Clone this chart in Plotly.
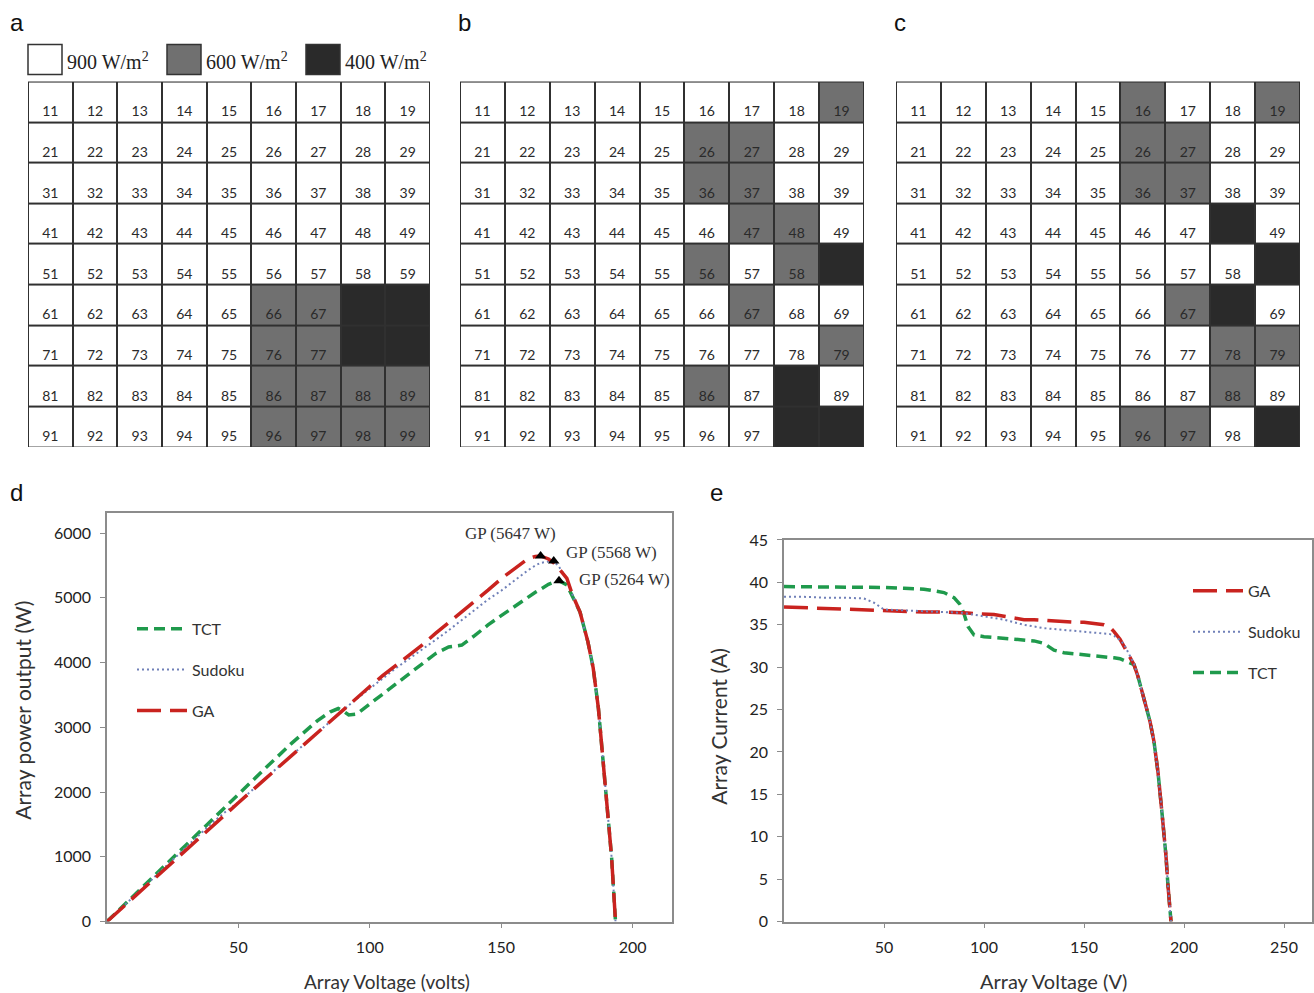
import plotly.graph_objects as go

W, H = 1314, 993

# ---------------- grid data ----------------
rows = list(range(1, 10))
cols = list(range(1, 10))
grid_a_600 = [66, 67, 76, 77, 86, 87, 88, 89, 96, 97, 98, 99]
grid_a_400 = [68, 69, 78, 79]
grid_b_600 = [19, 26, 27, 36, 37, 47, 48, 56, 58, 67, 79, 86]
grid_b_400 = [59, 88, 98, 99]
grid_c_600 = [16, 19, 26, 27, 36, 37, 67, 78, 79, 88, 96, 97]
grid_c_400 = [48, 59, 68, 99]
irradiance_labels = ["900 W/m<sup>2</sup>", "600 W/m<sup>2</sup>", "400 W/m<sup>2</sup>"]
shade_colors = ["#ffffff", "#707070", "#2a2a2a"]

# ---------------- curve data ----------------
voltage = [0, 10, 20, 30, 40, 45, 50, 60, 70, 80,
           85, 88, 90, 92, 95, 100, 105, 110, 115, 120,
           125, 130, 135, 140, 145, 150, 155, 160, 163, 165,
           168, 170, 172, 175, 177, 180, 183, 185, 187, 189,
           190, 191, 192, 193.5]

power_ga = [0, 370, 738, 1104, 1472, 1652, 1835, 2196, 2555, 2920,
            3102, 3203, 3276, 3349, 3449, 3630, 3801, 3960, 4117, 4272,
            4450, 4615, 4793, 4956, 5119, 5295, 5456, 5600, 5640, 5647,
            5600, 5540, 5450, 5300, 5060, 4780, 4320, 3920, 3290, 2420,
            1990, 1500, 1000, 0]
power_sudoku = [0, 383, 764, 1146, 1524, 1692, 1840, 2202, 2562, 2920,
                3102, 3203, 3276, 3340, 3439, 3600, 3759, 3916, 4060, 4200,
                4350, 4498, 4658, 4816, 4974, 5110, 5270, 5420, 5500, 5540,
                5560, 5568, 5480, 5300, 5060, 4780, 4320, 3920, 3290, 2420,
                1990, 1500, 1000, 0]
power_tct = [0, 395, 790, 1182, 1576, 1773, 1970, 2358, 2744, 3100,
             3240, 3290, 3250, 3190, 3205, 3360, 3518, 3674, 3841, 3996,
             4138, 4240, 4270, 4420, 4582, 4725, 4867, 5008, 5086, 5132,
             5208, 5240, 5264, 5200, 5040, 4780, 4320, 3920, 3290, 2420,
             1990, 1500, 1000, 0]

current_ga = [37.1, 37.0, 36.9, 36.8, 36.8, 36.7, 36.7, 36.6, 36.5, 36.5,
              36.5, 36.4, 36.4, 36.4, 36.3, 36.3, 36.2, 36.0, 35.8, 35.6,
              35.6, 35.5, 35.5, 35.4, 35.3, 35.3, 35.2, 35.0, 34.7, 34.2,
              33.3, 32.5, 31.6, 30.3, 28.9, 26.4, 23.6, 21.2, 17.6, 12.8,
              10.3, 7.7, 4.2, 0.0]
current_sudoku = [38.3, 38.3, 38.2, 38.2, 38.1, 37.6, 36.8, 36.7, 36.6, 36.5,
                  36.5, 36.4, 36.4, 36.3, 36.2, 36.0, 35.8, 35.6, 35.3, 35.0,
                  34.8, 34.6, 34.5, 34.4, 34.3, 34.2, 34.1, 34.0, 33.9, 33.7,
                  33.2, 32.7, 31.8, 30.4, 28.9, 26.4, 23.6, 21.2, 17.6, 12.8,
                  10.3, 7.7, 4.2, 0.0]
current_tct = [39.5, 39.5, 39.5, 39.4, 39.4, 39.4, 39.4, 39.3, 39.2, 38.8,
               38.2, 37.4, 36.3, 34.8, 33.8, 33.6, 33.5, 33.4, 33.4, 33.3,
               33.1, 32.8, 32.0, 31.7, 31.6, 31.5, 31.4, 31.3, 31.2, 31.1,
               31.0, 30.8, 30.7, 30.3, 28.9, 26.4, 23.6, 21.2, 17.6, 12.8,
               10.3, 7.7, 4.2, 0.0]

gp_voltage = [165, 170, 172]
gp_power = [5647, 5568, 5264]
gp_labels = ["GP (5647 W)", "GP (5568 W)", "GP (5264 W)"]

d_xticks = [50, 100, 150, 200]
d_yticks = [0, 1000, 2000, 3000, 4000, 5000, 6000]
e_xticks = [50, 100, 150, 200, 250]
e_yticks = [0, 5, 10, 15, 20, 25, 30, 35, 40, 45]

RED = "#c9231f"
GREEN = "#1f9a4c"
BLUE = "#7080b8"
SANS = "Lato"
SERIF = "Liberation Serif"


def px(x):
    return x / W


def py(y):
    # pixel row in the picture -> paper coordinate (with an empirical viewport correction)
    return 1 - ((y - 9.4) / 0.982) / H


fig = go.Figure()

# ---------------- grids ----------------
grids = [("a", grid_a_600, grid_a_400, (28, 430)),
         ("b", grid_b_600, grid_b_400, (460, 864)),
         ("c", grid_c_600, grid_c_400, (896, 1300))]
shapes = []
annotations = []
layout_axes = {}
for gi, (name, g600, g400, (x0, x1)) in enumerate(grids):
    ax = gi + 3
    z = []
    tx, ty, tt = [], [], []
    for r in rows:
        zr = []
        for c in cols:
            cell = r * 10 + c
            zr.append(1 if cell in g600 else (2 if cell in g400 else 0))
            tx.append(c - 1)
            ty.append(r - 1 + 0.1)
            tt.append(str(cell))
        z.append(zr)
    fig.add_trace(go.Heatmap(
        z=z, x=list(range(9)), y=list(range(9)),
        colorscale=[[0, shade_colors[0]], [0.5, shade_colors[1]], [1, shade_colors[2]]],
        zmin=0, zmax=2, showscale=False, xgap=2, ygap=2, hoverinfo="skip",
        xaxis=f"x{ax}", yaxis=f"y{ax}"))
    fig.add_trace(go.Scatter(
        x=tx, y=ty, text=tt, mode="text", textposition="bottom center",
        textfont=dict(family=SANS, size=14, color="#2a2a2a"),
        hoverinfo="skip", showlegend=False,
        xaxis=f"x{ax}", yaxis=f"y{ax}"))
    layout_axes[f"xaxis{ax}"] = dict(domain=[px(x0), px(x1)], range=[-0.5, 8.5],
                                     visible=False, fixedrange=True, anchor=f"y{ax}")
    layout_axes[f"yaxis{ax}"] = dict(domain=[py(447), py(81)], range=[8.5, -0.5],
                                     visible=False, fixedrange=True, anchor=f"x{ax}")
    shapes.append(dict(type="rect", xref=f"x{ax}", yref=f"y{ax}", x0=-0.53, x1=8.53,
                       y0=-0.53, y1=8.53, fillcolor="#303030", line=dict(width=0),
                       layer="below"))

# irradiance key (legend of the grids)
key_boxes = [(28, 62), (167, 201), (306, 340)]
for (bx0, bx1), col, lab in zip(key_boxes, shade_colors, irradiance_labels):
    shapes.append(dict(type="rect", xref="paper", yref="paper", x0=px(bx0), x1=px(bx1),
                       y0=py(74), y1=py(44), fillcolor=col, line=dict(color="#333333", width=1.5)))
    annotations.append(dict(x=px(bx1 + 3), y=py(60), xref="paper", yref="paper", text=lab,
                            showarrow=False, xanchor="left", yanchor="middle",
                            font=dict(family=SERIF, size=20, color="#222")))

# panel letters
for letter, lx, ly in [("a", 8, 22), ("b", 456, 22), ("c", 892, 22), ("d", 8, 492), ("e", 708, 492)]:
    annotations.append(dict(x=px(lx), y=py(ly), xref="paper", yref="paper", text=letter,
                            showarrow=False, xanchor="left", yanchor="middle",
                            font=dict(family="Liberation Sans", size=24, color="#111")))

# ---------------- panel d ----------------
fig.add_trace(go.Scatter(x=voltage, y=power_tct, mode="lines", name="TCT",
                         line=dict(color=GREEN, width=3.5, dash="11px,6px"),
                         legend="legend", legendgroup="d1", xaxis="x", yaxis="y"))
fig.add_trace(go.Scatter(x=voltage, y=power_sudoku, mode="lines", name="Sudoku",
                         line=dict(color=BLUE, width=2, dash="2px,3px"),
                         legend="legend", legendgroup="d2", xaxis="x", yaxis="y"))
fig.add_trace(go.Scatter(x=voltage, y=power_ga, mode="lines", name="GA",
                         line=dict(color=RED, width=3.5, dash="24px,9px"),
                         legend="legend", legendgroup="d3", xaxis="x", yaxis="y"))
fig.add_trace(go.Scatter(x=gp_voltage, y=gp_power, mode="markers",
                         marker=dict(symbol="triangle-up", size=10, color="black"),
                         showlegend=False, xaxis="x", yaxis="y"))
gp_offsets = [("center", -30, 22), ("left", 10, 9), ("left", 18, 1)]
for v, p, lab, (anc, dx, dy) in zip(gp_voltage, gp_power, gp_labels, gp_offsets):
    annotations.append(dict(x=v, y=p, xref="x", yref="y", text=lab, showarrow=False,
                            xanchor=anc, yanchor="middle", xshift=dx, yshift=dy,
                            font=dict(family=SERIF, size=17, color="#333")))

# ---------------- panel e ----------------
fig.add_trace(go.Scatter(x=voltage, y=current_tct, mode="lines", name="TCT",
                         line=dict(color=GREEN, width=3.5, dash="11px,6px"),
                         legend="legend2", legendgroup="e3", legendrank=3, xaxis="x2", yaxis="y2"))
fig.add_trace(go.Scatter(x=voltage, y=current_ga, mode="lines", name="GA",
                         line=dict(color=RED, width=3.5, dash="24px,9px"),
                         legend="legend2", legendgroup="e1", legendrank=1, xaxis="x2", yaxis="y2"))
fig.add_trace(go.Scatter(x=voltage, y=current_sudoku, mode="lines", name="Sudoku",
                         line=dict(color=BLUE, width=2, dash="2px,3px"),
                         legend="legend2", legendgroup="e2", legendrank=2, xaxis="x2", yaxis="y2"))

axis_common = dict(showline=True, mirror=True, linecolor="#8c8c8c", linewidth=1.5,
                   showgrid=False, zeroline=False, ticks="outside", ticklen=5,
                   tickcolor="#8c8c8c", ticklabelstandoff=6,
                   tickfont=dict(family=SANS, size=16, color="#222"),
                   fixedrange=True)

# axis titles
for text, x, y, ang, size in [("Array power output (W)", 23, 711, -90, 21),
                              ("Array Voltage (volts)", 387, 982, 0, 19),
                              ("Array Current (A)", 719, 727, -90, 21),
                              ("Array Voltage (V)", 1053, 982, 0, 20)]:
    annotations.append(dict(x=px(x), y=py(y), xref="paper", yref="paper", text=text,
                            showarrow=False, textangle=ang, xanchor="center", yanchor="middle",
                            font=dict(family=SANS, size=size, color="#333")))

legend_common = dict(bgcolor="rgba(0,0,0,0)", font=dict(family=SANS, size=16, color="#333"),
                     tracegroupgap=17, itemwidth=50, xanchor="left", yanchor="top")

fig.update_layout(
    width=W, height=H, margin=dict(l=0, r=0, t=0, b=0),
    paper_bgcolor="white", plot_bgcolor="white",
    xaxis=dict(domain=[px(107), px(672)], range=[0, 215], tickvals=d_xticks, anchor="y", **axis_common),
    yaxis=dict(domain=[py(922), py(513)], range=[0, 6310], tickvals=d_yticks, anchor="x", **axis_common),
    xaxis2=dict(domain=[px(784), px(1312)], range=[0, 264], tickvals=e_xticks, anchor="y2", **axis_common),
    yaxis2=dict(domain=[py(922), py(540)], range=[0, 45], tickvals=e_yticks, anchor="x2", **axis_common),
    legend=dict(x=px(132), y=py(612), **legend_common),
    legend2=dict(x=px(1188), y=py(574), **legend_common),
    shapes=shapes, annotations=annotations, showlegend=True,
    **layout_axes,
)

fig.write_html("out.html", config={"displayModeBar": False},
               post_script="document.body.style.margin='0';document.body.style.overflow='hidden';")
